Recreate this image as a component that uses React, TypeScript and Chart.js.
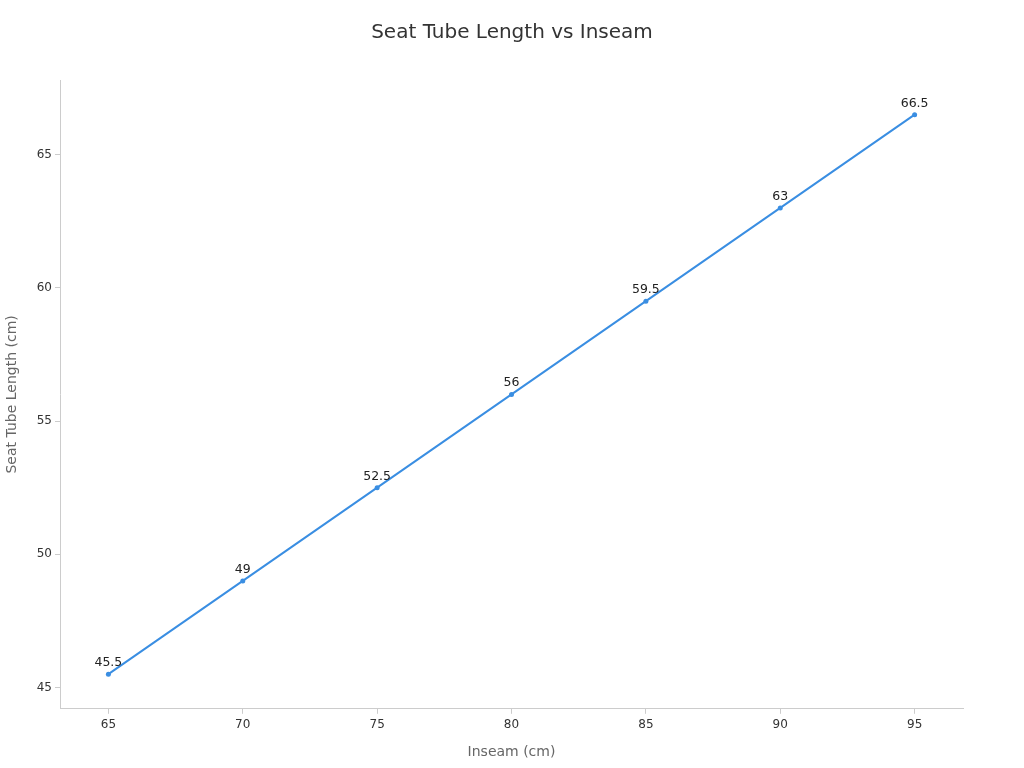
import Chart from "chart.js/auto";
import { useEffect, useRef } from "react";

const inseam = [65, 70, 75, 80, 85, 90, 95];
const seatTube = [45.5, 49, 52.5, 56, 59.5, 63, 66.5];
const xTicks = [65, 70, 75, 80, 85, 90, 95];
const yTicks = [45, 50, 55, 60, 65];

const FONT = "'DejaVu Sans', sans-serif";
const LINE = "#3a8ee2";
const TITLE = "Seat Tube Length vs Inseam";

const pointLabels = {
  id: "pointLabels",
  afterDatasetsDraw(chart: Chart) {
    const { ctx } = chart;
    const meta = chart.getDatasetMeta(0);
    ctx.save();
    ctx.font = `12.5px ${FONT}`;
    ctx.fillStyle = "#222";
    ctx.textAlign = "center";
    ctx.textBaseline = "bottom";
    meta.data.forEach((pt, i) => {
      ctx.fillText(String(seatTube[i]), pt.x, pt.y - 5);
    });
    ctx.restore();
  },
};

// title centred on the whole canvas, not on the plot box
const pageTitle = {
  id: "pageTitle",
  afterDraw(chart: Chart) {
    const { ctx } = chart;
    ctx.save();
    ctx.font = `20px ${FONT}`;
    ctx.fillStyle = "#333";
    ctx.textAlign = "center";
    ctx.textBaseline = "middle";
    ctx.fillText(TITLE, chart.width / 2, 33);
    ctx.restore();
  },
};

export default function App() {
  const canvasRef = useRef<HTMLCanvasElement | null>(null);
  const chartRef = useRef<Chart | null>(null);

  useEffect(() => {
    if (!canvasRef.current) {
      return;
    }
    chartRef.current?.destroy();

    chartRef.current = new Chart(canvasRef.current, {
      type: "line",
      data: {
        datasets: [
          {
            data: inseam.map((x, i) => ({ x, y: seatTube[i] })),
            borderColor: LINE,
            backgroundColor: LINE,
            borderWidth: 2,
            pointRadius: 2.5,
            pointBorderWidth: 0,
            tension: 0,
          },
        ],
      },
      options: {
        animation: false,
        responsive: true,
        maintainAspectRatio: false,
        layout: { padding: { left: 0, right: 61, top: 80, bottom: 7 } },
        plugins: {
          legend: { display: false },
          tooltip: { enabled: false },
          title: { display: false },
        },
        scales: {
          x: {
            type: "linear",
            min: 63.2,
            max: 96.8,
            afterBuildTicks: (scale) => {
              scale.ticks = xTicks.map((value) => ({ value }));
            },
            grid: {
              drawOnChartArea: false,
              drawTicks: true,
              tickLength: 5,
              color: "#ccc",
            },
            border: { color: "#ccc" },
            ticks: {
              color: "#333",
              font: { family: FONT, size: 12 },
              padding: 4,
              maxRotation: 0,
            },
            title: {
              display: true,
              text: "Inseam (cm)",
              color: "#666",
              font: { family: FONT, size: 14 },
              padding: { top: 8, bottom: 0 },
            },
          },
          y: {
            type: "linear",
            min: 44.2,
            max: 67.8,
            afterBuildTicks: (scale) => {
              scale.ticks = yTicks.map((value) => ({ value }));
            },
            afterFit: (scale) => {
              scale.width = 60;
            },
            grid: {
              drawOnChartArea: false,
              drawTicks: true,
              tickLength: 5,
              color: "#ccc",
            },
            border: { color: "#ccc" },
            ticks: {
              color: "#333",
              font: { family: FONT, size: 12 },
              padding: 3,
            },
            title: {
              display: true,
              text: "Seat Tube Length (cm)",
              color: "#666",
              font: { family: FONT, size: 14 },
              padding: { top: 4, bottom: 0 },
            },
          },
        },
      },
      plugins: [pointLabels, pageTitle],
    });

    return () => {
      chartRef.current?.destroy();
      chartRef.current = null;
    };
  }, []);

  return (
    <div
      style={{
        position: "fixed",
        left: 0,
        top: 0,
        width: 1024,
        height: 768,
        background: "#fff",
      }}
    >
      <canvas ref={canvasRef} />
    </div>
  );
}
